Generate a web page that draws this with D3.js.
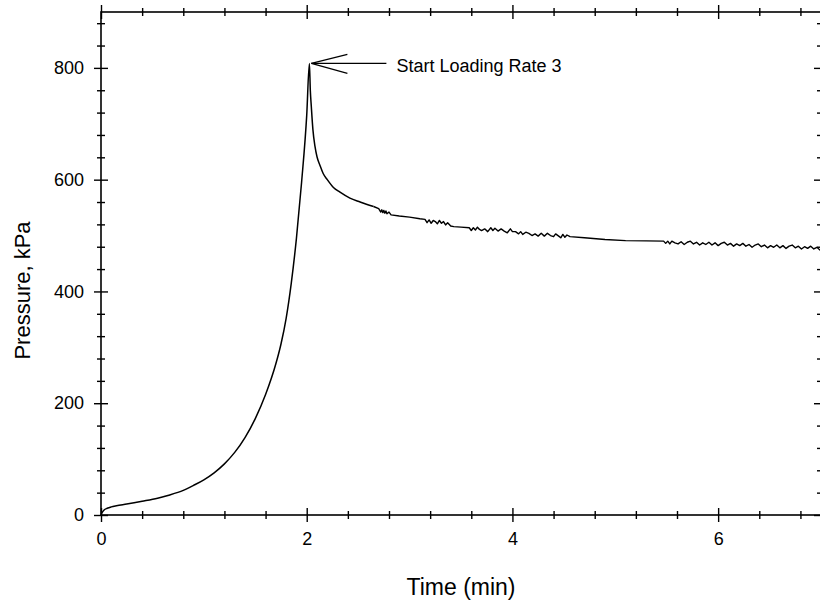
<!DOCTYPE html>
<html>
<head>
<meta charset="utf-8">
<script src="https://cdn.jsdelivr.net/npm/d3@7"></script>
<style>
body { margin: 0; background: #fff; }
svg { display: block; font-family: "Liberation Sans", Arial, sans-serif; }
.tick line { stroke: #000; stroke-width: 1.4px; }
</style>
</head>
<body>
<div id="chart"></div>
<script>
// DATA
var timeMin = [
  0, 0.01, 0.03, 0.06, 0.1, 0.15, 0.25, 0.4, 0.55, 0.65, 0.8, 0.9, 1.0, 1.1,
  1.2, 1.3, 1.4, 1.5, 1.6, 1.7, 1.75, 1.8, 1.85, 1.9, 1.95,
  2.0, 2.026,
  2.035, 2.045, 2.06, 2.08, 2.1, 2.13, 2.16, 2.2, 2.26, 2.32, 2.42, 2.52, 2.58, 2.65,
  2.70, 2.72, 2.73, 2.74, 2.75, 2.76, 2.77, 2.78, 2.80, 2.82,
  2.9, 3.0, 3.1, 3.15,
  3.17, 3.19, 3.21, 3.23, 3.25, 3.27, 3.29, 3.31, 3.33, 3.35, 3.37, 3.40, 3.43,
  3.5, 3.58,
  3.60, 3.62, 3.64, 3.66, 3.68, 3.70, 3.73, 3.76, 3.79, 3.81, 3.83, 3.86, 3.89, 3.92,
  3.95, 3.98, 4.00, 4.03, 4.06, 4.08, 4.10, 4.13, 4.16, 4.19, 4.22, 4.25, 4.28, 4.31,
  4.34, 4.37, 4.40, 4.42, 4.45, 4.47, 4.49, 4.51, 4.53, 4.56,
  4.7, 4.9, 5.1, 5.3, 5.47,
  5.49, 5.51, 5.53, 5.55, 5.58, 5.61, 5.64, 5.67, 5.70, 5.73, 5.76, 5.79, 5.82, 5.85,
  5.88, 5.91, 5.94, 5.97, 6.00, 6.03, 6.06, 6.09, 6.12, 6.15, 6.18, 6.21, 6.24, 6.27,
  6.30, 6.33, 6.36, 6.39, 6.42, 6.45, 6.48, 6.51, 6.54, 6.57, 6.60, 6.63, 6.66, 6.69,
  6.72, 6.75, 6.78, 6.81, 6.84, 6.87, 6.90, 6.93, 6.96, 6.99, 7.0
];
var pressureKpa = [
  0, 4, 9, 12, 14.5, 16.5, 19.5, 24.5, 30, 35, 44, 53, 63, 75.5,
  91.5, 112, 138.5, 172.5, 215.5, 270.5, 306, 352, 415, 495, 595,
  715, 808,
  760, 730, 690, 660, 641, 625, 611, 600, 586, 578, 567, 560, 556, 552,
  548, 542, 546, 541, 545, 540, 544, 539, 542, 537,
  535, 533, 530, 529,
  523, 528, 522, 527, 525, 521, 527, 522, 525, 519, 523, 517, 516,
  515, 514,
  509, 514, 510, 515, 511, 509, 512, 507, 514, 509, 513, 508, 512, 508,
  505, 512, 507, 507, 503, 507, 502, 506, 504, 500, 503, 499, 504, 499,
  504, 500, 498, 503, 499, 496, 502, 497, 501, 498,
  496, 493, 491, 490.5, 490,
  486, 490, 485, 490, 487, 485, 489, 484, 488, 490, 485, 488, 483, 487,
  484, 488, 483, 487, 482, 486, 488, 483, 486, 481, 485, 482, 486, 481,
  484, 479, 483, 485, 480, 483, 478, 482, 479, 483, 478, 482, 477, 481,
  483, 478, 481, 476, 480, 477, 481, 476, 479, 474, 476
];

var xMajor = [0, 2, 4, 6];
var xMinor = [0.4, 0.8, 1.2, 1.6, 2.4, 2.8, 3.2, 3.6, 4.4, 4.8, 5.2, 5.6, 6.4, 6.8];
var yMajor = [0, 200, 400, 600, 800];
var yMinor = [40, 80, 120, 160, 240, 280, 320, 360, 440, 480, 520, 560, 640, 680, 720, 760, 840, 880];

var annoText = "Start Loading Rate 3";
var annoTime = 2.026, annoValue = 808;

// LAYOUT
var WIDTH = 820;
var HEIGHT = 604;
var LEFT = 101, RIGHT = 821, TOP = 12, BOTTOM = 515;

var xScale = d3.scaleLinear().domain([0, 7]).range([LEFT, RIGHT]);
var yScale = d3.scaleLinear().domain([0, 900]).range([BOTTOM, TOP]);

var svg = d3.select("#chart").append("svg")
  .attr("width", WIDTH)
  .attr("height", HEIGHT);

// ticks cross the frame line, so each side gets an outward and an inward axis
function sideAxes(make, scale, pos, major, minor, labelled) {
  var outer = make(scale).tickValues(major).tickSize(7).tickPadding(10);
  outer.tickFormat(labelled ? d3.format("d") : "");
  var inner = make(scale).tickValues(major).tickSize(-7).tickFormat("");
  var outerMin = make(scale).tickValues(minor).tickSize(4).tickFormat("");
  var innerMin = make(scale).tickValues(minor).tickSize(-4).tickFormat("");
  [outer, inner, outerMin, innerMin].forEach(function(ax) {
    svg.append("g")
      .attr("transform", pos)
      .call(ax);
  });
}

sideAxes(d3.axisBottom, xScale, "translate(0," + BOTTOM + ")", xMajor, xMinor, true);
sideAxes(d3.axisTop, xScale, "translate(0," + TOP + ")", xMajor, xMinor, false);
sideAxes(d3.axisLeft, yScale, "translate(" + LEFT + ",0)", yMajor, yMinor, true);
sideAxes(d3.axisRight, yScale, "translate(" + RIGHT + ",0)", yMajor, yMinor, false);

svg.selectAll(".domain").remove();

svg.selectAll(".tick text")
  .attr("fill", "#000")
  .style("font-size", "18px")
  .style("font-family", "Liberation Sans, Arial, sans-serif");

// frame
svg.append("rect")
  .attr("x", LEFT).attr("y", TOP)
  .attr("width", RIGHT - LEFT).attr("height", BOTTOM - TOP)
  .attr("fill", "none")
  .attr("stroke", "#000")
  .attr("stroke-width", 1.6);

// curve: smooth loading part, raw jagged readings after it
var points = timeMin.map(function(t, i) { return [t, pressureKpa[i]]; });
var split = 2.65;

var smoothLine = d3.line()
  .x(function(d) { return xScale(d[0]); })
  .y(function(d) { return yScale(d[1]); })
  .curve(d3.curveMonotoneX);
var rawLine = d3.line()
  .x(function(d) { return xScale(d[0]); })
  .y(function(d) { return yScale(d[1]); });

svg.append("path")
  .datum(points.filter(function(d) { return d[0] <= split; }))
  .attr("d", smoothLine)
  .attr("fill", "none")
  .attr("stroke", "#000")
  .attr("stroke-width", 1.5);

svg.append("path")
  .datum(points.filter(function(d) { return d[0] >= split; }))
  .attr("d", rawLine)
  .attr("fill", "none")
  .attr("stroke", "#000")
  .attr("stroke-width", 1.4)
  .attr("stroke-linejoin", "round");

// annotation arrow
var tipX = xScale(annoTime) + 2, tipY = yScale(annoValue);
var arrow = svg.append("g").attr("stroke", "#000").attr("stroke-width", 1.2).attr("fill", "none");
arrow.append("line").attr("x1", tipX).attr("y1", tipY).attr("x2", tipX + 75).attr("y2", tipY);
arrow.append("line").attr("x1", tipX).attr("y1", tipY).attr("x2", tipX + 36).attr("y2", tipY - 9);
arrow.append("line").attr("x1", tipX).attr("y1", tipY).attr("x2", tipX + 36).attr("y2", tipY + 10);

svg.append("text")
  .attr("x", tipX + 85)
  .attr("y", tipY + 9)
  .attr("font-size", 18)
  .attr("fill", "#000")
  .text(annoText);

// axis titles
svg.append("text")
  .attr("x", 461)
  .attr("y", 595)
  .attr("text-anchor", "middle")
  .attr("font-size", 23)
  .attr("fill", "#000")
  .text("Time (min)");

svg.append("text")
  .attr("transform", "translate(30," + ((TOP + BOTTOM) / 2 + 27) + ") rotate(-90)")
  .attr("text-anchor", "middle")
  .attr("font-size", 22)
  .attr("fill", "#000")
  .text("Pressure, kPa");
</script>
</body>
</html>
